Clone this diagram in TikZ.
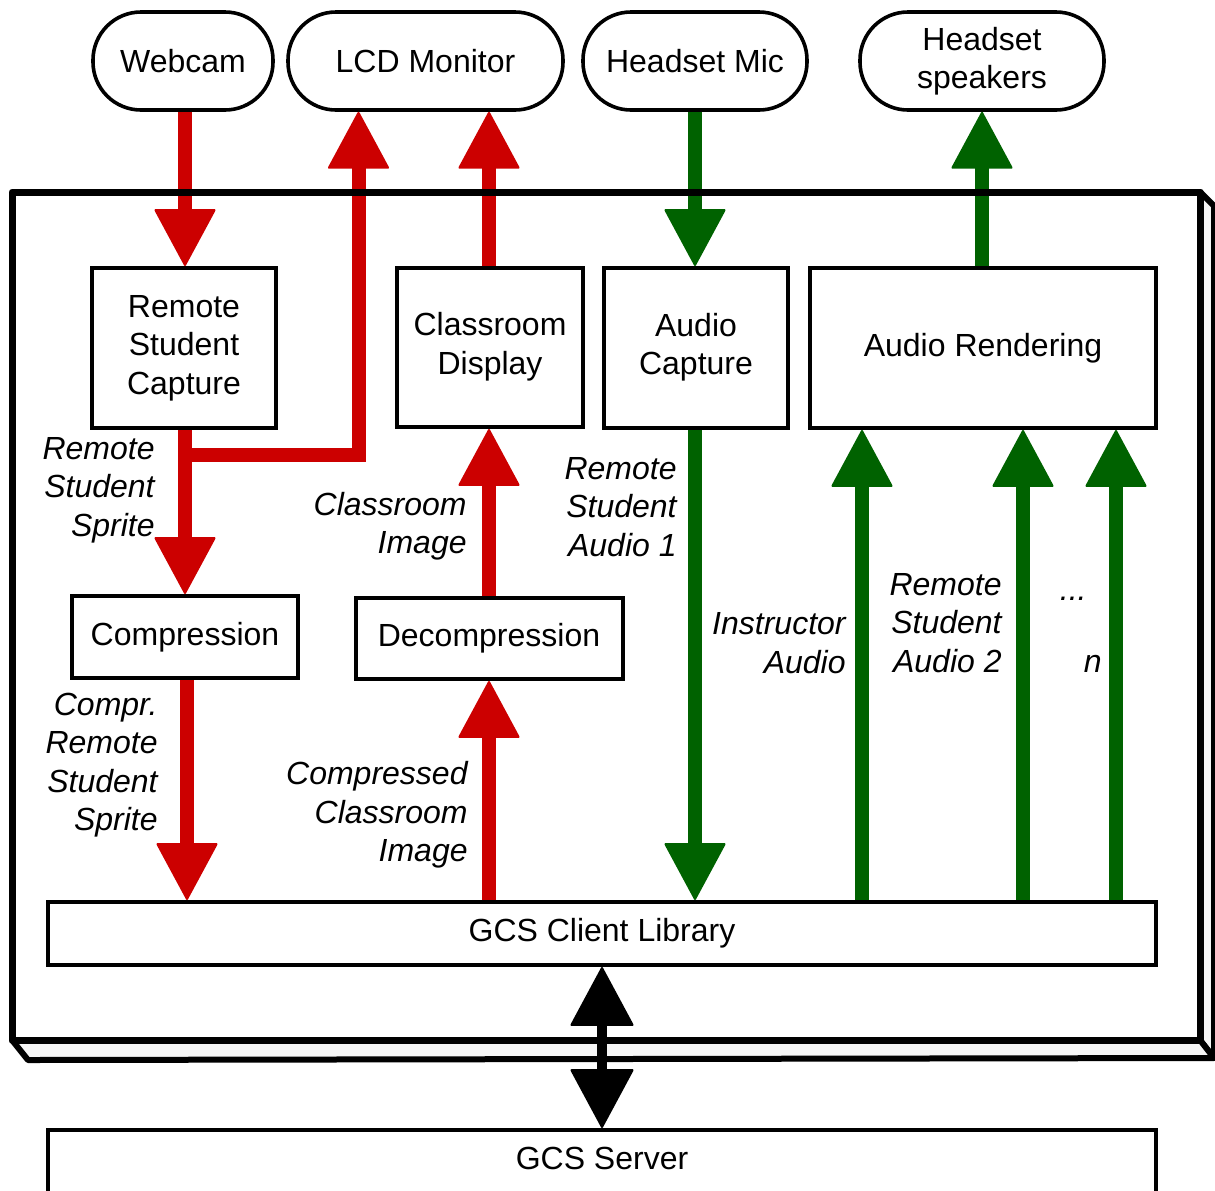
\documentclass[tikz,border=0pt]{standalone}
\usepackage{fontspec}
\setmainfont{Liberation Sans}
\usetikzlibrary{arrows.meta}
\definecolor{ared}{RGB}{204,0,0}
\definecolor{agreen}{RGB}{0,98,0}
\begin{document}
\begin{tikzpicture}[x=0.5pt,y=-0.5pt,
  font=\fontsize{16}{19.25}\selectfont,
  pill/.style={draw, line width=1.8pt, rounded corners=24pt, minimum height=49pt, inner sep=0pt, align=center},
  blk/.style={draw, line width=2pt, inner sep=0pt, align=center, fill=white},
  lbl/.style={anchor=east, align=right, inner sep=0pt, font=\fontsize{16}{19.25}\selectfont\itshape},
  redflow/.style={draw=ared, line width=7pt, -{Triangle[width=31pt,length=29pt,line width=1pt,round]}},
  greenflow/.style={draw=agreen, line width=7pt, -{Triangle[width=31pt,length=29pt,line width=1pt,round]}},
  netflow/.style={draw=black, line width=5pt, {Triangle[width=32pt,length=30pt,line width=1pt,round]}-{Triangle[width=32pt,length=30pt,line width=1pt,round]}}
]
\useasboundingbox (0,0) rectangle (1215,1190);

% outer 3D box side faces
\filldraw[fill=gray!8, line width=3pt, line join=round] (1200,192) -- (1214,206) -- (1214,1058) -- (1200,1040) -- cycle;
\filldraw[fill=gray!8, line width=3pt, line join=round] (12,1040) -- (1200,1040) -- (1214,1058) -- (28,1060) -- cycle;

% top devices
\node[pill, minimum width=90pt] (webcam) at (183,61) {Webcam};
\node[pill, minimum width=137.5pt] (lcd) at (425.5,61) {LCD Monitor};
\node[pill, minimum width=112pt] (mic) at (695,61) {Headset Mic};
\node[pill, minimum width=122pt] (spk) at (982,61) {Headset\\speakers};

% processing blocks
\node[blk, minimum width=92pt, minimum height=80pt] (rsc) at (184,348) {\raisebox{-1.5pt}{\begin{tabular}{@{}c@{}}Remote\\Student\\Capture\end{tabular}}};
\node[blk, minimum width=93pt, minimum height=79.5pt] (cd) at (490,347.5) {\raisebox{-1pt}{\begin{tabular}{@{}c@{}}Classroom\\Display\end{tabular}}};
\node[blk, minimum width=92pt, minimum height=80pt] (ac) at (696,348) {\raisebox{-1.5pt}{\begin{tabular}{@{}c@{}}Audio\\Capture\end{tabular}}};
\node[blk, minimum width=173pt, minimum height=80pt] (ar) at (983,348) {\raisebox{-2pt}{Audio Rendering}};
\node[blk, minimum width=113pt, minimum height=41pt] (comp) at (185,637) {\raisebox{-1.5pt}{Compression}};
\node[blk, minimum width=133.5pt, minimum height=40.5pt] (decomp) at (489,638.5) {\raisebox{-1pt}{Decompression}};
\node[blk, minimum width=554pt, minimum height=31.5pt] (gcl) at (602,933.5) {\raisebox{-1pt}{GCS Client Library}};
\node[blk, minimum width=554pt, minimum height=70pt] (server) at (602,1200) {};
\node (servertext) at (602,1158) {GCS Server};

% coordinates for connector columns
\coordinate (brc) at (185,455);
\coordinate (cx) at (187,0);
\coordinate (ax1) at (862,0);
\coordinate (ax2) at (1023,0);
\coordinate (ax3) at (1116,0);

% red video flows
\draw[redflow] (webcam.south -| brc) -- (rsc.north -| brc);
\draw[redflow] (rsc.south -| brc) -- (comp.north -| brc);
\draw[redflow, line join=miter] (brc) -| ([xshift=-33.5pt]lcd.south);
\draw[redflow] (comp.south -| cx) -- (gcl.north -| cx);
\draw[redflow] (gcl.north -| decomp.south) -- (decomp.south);
\draw[redflow] (decomp.north) -- (cd.south -| decomp.north);
\draw[redflow] (cd.north -| decomp.north) -- (lcd.south -| decomp.north);

% green audio flows
\draw[greenflow] (mic.south) -- (ac.north -| mic.south);
\draw[greenflow] (ac.south -| mic.south) -- (gcl.north -| mic.south);
\draw[greenflow] (gcl.north -| ax1) -- (ar.south -| ax1);
\draw[greenflow] (gcl.north -| ax2) -- (ar.south -| ax2);
\draw[greenflow] (gcl.north -| ax3) -- (ar.south -| ax3);
\draw[greenflow] (ar.north -| spk.south) -- (spk.south);

% network
\draw[netflow] (gcl.south) -- (server.north);

% outer box front face
\draw[line width=3.5pt, line join=round] (12,192) rectangle (1200,1040);

% labels
\node[lbl] (l1) at (155,490) {Remote\\Student\\Sprite};
\node[lbl] (l2) at (467,526) {Classroom\\Image};
\node[lbl] (l3) at (677,507) {Remote\\Student\\Audio 1};
\node[lbl] (l4) at (158,765) {Compr.\\Remote\\Student\\Sprite};
\node[lbl] (l5) at (468,815) {Compressed\\Classroom\\Image};
\node[lbl] (l6) at (846,643) {Instructor\\Audio};
\node[lbl] (l7) at (1002,623) {Remote\\Student\\Audio 2};
\node[lbl, anchor=base east] (l8) at (1087,600) {...};
\node[lbl, anchor=base east] (l9) at (1102,672) {n};
\end{tikzpicture}
\end{document}
